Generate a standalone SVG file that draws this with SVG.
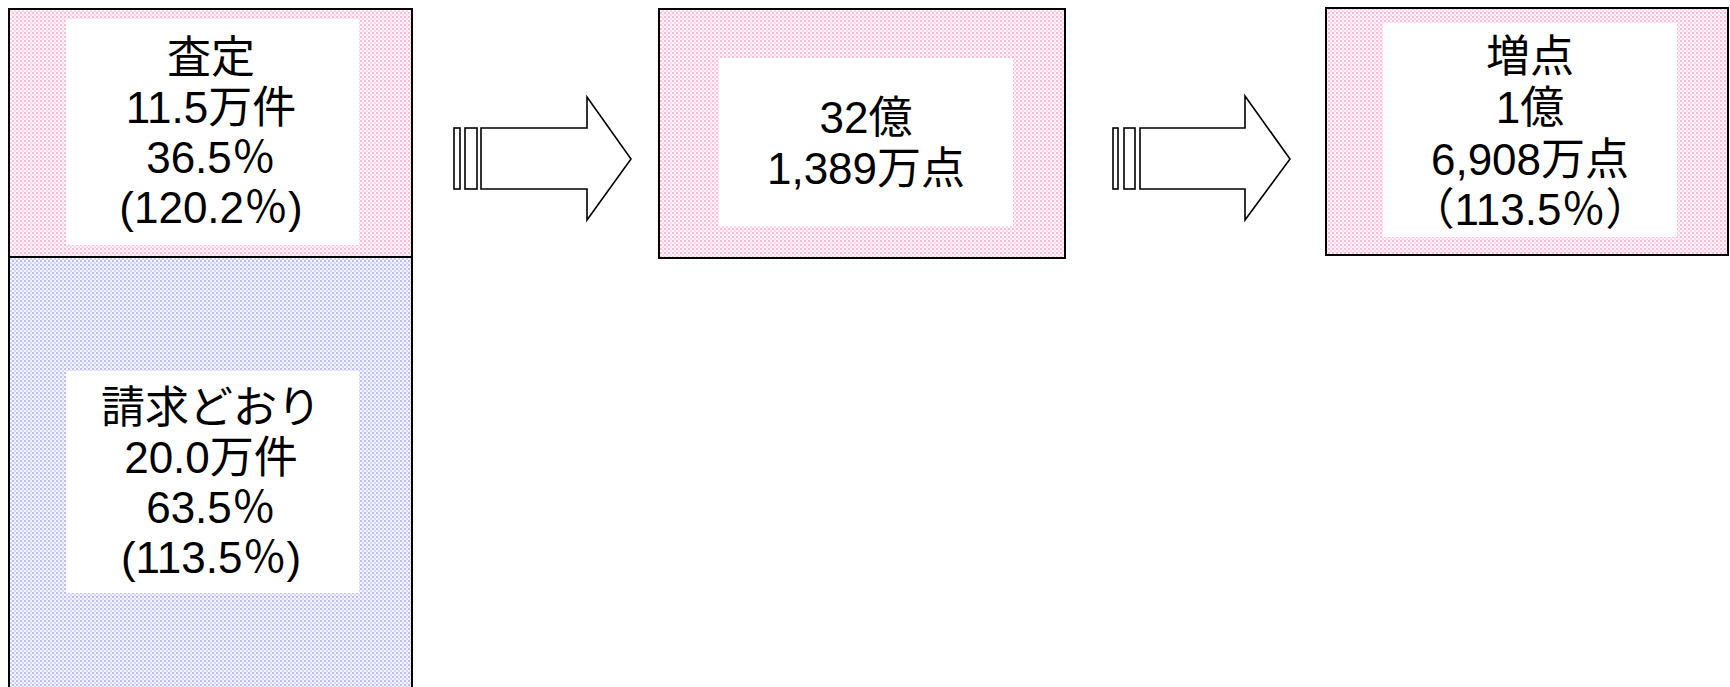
<svg xmlns="http://www.w3.org/2000/svg" width="1730" height="687" viewBox="0 0 1730 687">
<defs>
<pattern id="pinkDots" x="0" y="0" width="4" height="4" patternUnits="userSpaceOnUse">
<rect width="4" height="4" fill="#fff4f8"/>
<rect x="0" y="0" width="2" height="2" fill="#ffbcd6"/>
<rect x="2" y="2" width="2" height="2" fill="#ffd6e6"/>
</pattern>
<pattern id="blueDots" x="0" y="0" width="4" height="4" patternUnits="userSpaceOnUse">
<rect width="4" height="4" fill="#f4f4ff"/>
<rect x="0" y="0" width="2" height="2" fill="#bcbcff"/>
<rect x="2" y="2" width="2" height="2" fill="#d6d6ff"/>
</pattern>
<style>
.pink{fill:url(#pinkDots);stroke:#000;stroke-width:2}
.blue{fill:url(#blueDots);stroke:#000;stroke-width:2}
.inner{fill:#fff;stroke:none}
.t{font-family:"Liberation Sans","Noto Sans CJK JP",sans-serif;font-size:44px;fill:#000;text-anchor:middle}
.arrow{fill:#fff;stroke:#000;stroke-width:1.6;stroke-linejoin:miter}
</style>
</defs>
<rect width="1730" height="687" fill="#fff"/>
<g id="node-satei">
<rect class="pink" x="9" y="9" width="403" height="248"/>
<rect class="inner" x="66" y="19" width="293" height="226"/>
<text class="t" x="211" y="73">査定</text>
<text class="t" x="211" y="123">11.5万件</text>
<text class="t" x="211" y="173">36.5％</text>
<text class="t" x="211" y="223">(120.2％)</text>
</g>
<g id="node-seikyu">
<rect class="blue" x="9" y="257" width="403" height="450"/>
<rect class="inner" x="66" y="371" width="293" height="222"/>
<text class="t" x="211" y="423">請求どおり</text>
<text class="t" x="211" y="473">20.0万件</text>
<text class="t" x="211" y="523">63.5％</text>
<text class="t" x="211" y="573">(113.5％)</text>
</g>
<g id="node-total">
<rect class="pink" x="659" y="9" width="406" height="249"/>
<rect class="inner" x="719" y="58" width="294" height="168"/>
<text class="t" x="866" y="133">32億</text>
<text class="t" x="866" y="184">1,389万点</text>
</g>
<g id="node-zoten">
<rect class="pink" x="1326" y="8" width="402" height="247"/>
<rect class="inner" x="1383" y="23" width="294" height="214"/>
<text class="t" x="1530" y="72">増点</text>
<text class="t" x="1530" y="123">1億</text>
<text class="t" x="1530" y="175">6,908万点</text>
<text class="t" x="1530" y="225">（113.5％）</text>
</g>
<g id="connectors">
<g id="arrow1">
<rect class="arrow" x="454" y="128" width="6" height="61"/>
<rect class="arrow" x="465" y="128" width="12" height="61"/>
<polygon class="arrow" points="481,128 587,128 587,97 631,159 587,220 587,189 481,189"/>
</g>
<g id="arrow2">
<rect class="arrow" x="1113" y="128" width="5" height="61"/>
<rect class="arrow" x="1124" y="128" width="11" height="61"/>
<polygon class="arrow" points="1140,128 1245,128 1245,96 1290,159 1245,220 1245,189 1140,189"/>
</g>
</g>
</svg>
